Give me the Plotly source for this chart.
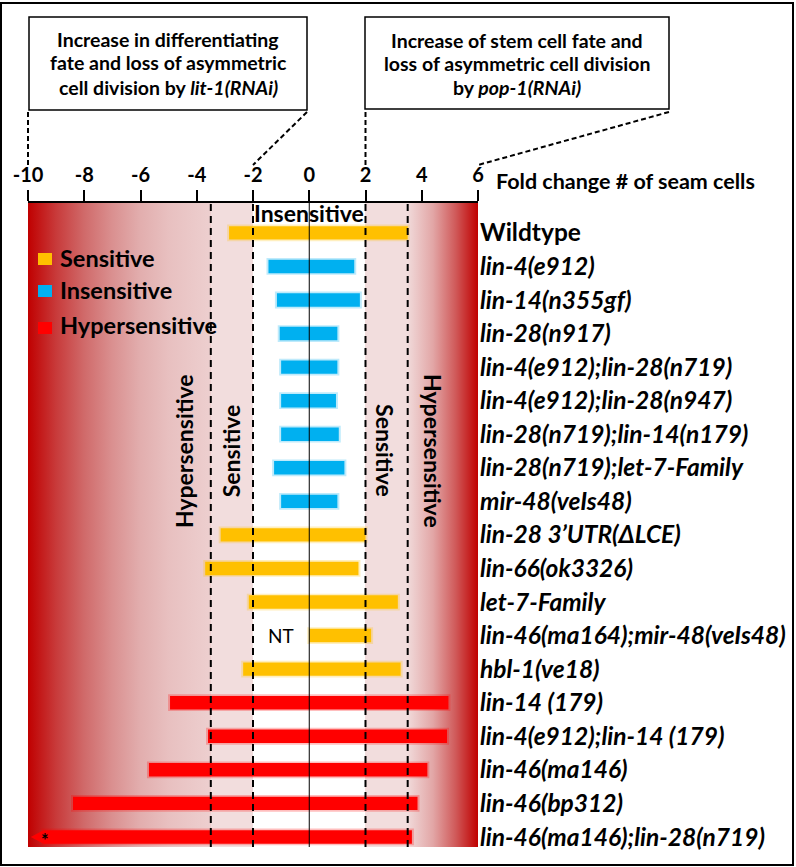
import plotly.graph_objects as go

# ---------------- data ----------------
strains = ["Wildtype", "lin-4(e912)", "lin-14(n355gf)", "lin-28(n917)",
           "lin-4(e912);lin-28(n719)", "lin-4(e912);lin-28(n947)",
           "lin-28(n719);lin-14(n179)", "lin-28(n719);let-7-Family",
           "mir-48(veIs48)", "lin-28 3\u2019UTR(\u0394LCE)", "lin-66(ok3326)",
           "let-7-Family", "lin-46(ma164);mir-48(veIs48)", "hbl-1(ve18)",
           "lin-14 (179)", "lin-4(e912);lin-14 (179)", "lin-46(ma146)",
           "lin-46(bp312)", "lin-46(ma146);lin-28(n719)"]
range_low = [-2.85, -1.45, -1.15, -1.05, -1.0, -1.0, -1.0, -1.25, -1.0,
             -3.15, -3.7, -2.15, 0.0, -2.35, -4.95, -3.6, -5.7, -8.4, -9.45]
range_high = [3.5, 1.6, 1.8, 1.0, 1.0, 0.95, 1.05, 1.25, 1.0,
              2.0, 1.75, 3.15, 2.2, 3.25, 4.95, 4.9, 4.2, 3.85, 3.65]
category = ["Sensitive"] + ["Insensitive"] * 8 + ["Sensitive"] * 5 + ["Hypersensitive"] * 5
arrow_tip = -9.9          # last strain extends beyond the axis (arrow)
not_tested = "lin-46(ma164);mir-48(veIs48)"
thresholds = [-3.5, -2, 2, 3.5]
x_ticks = [-10, -8, -6, -4, -2, 0, 2, 4, 6]
cat_colors = {"Sensitive": "#FFC000", "Insensitive": "#00B0F0", "Hypersensitive": "#FF0000"}

FONT = "Lato"
W, H = 796, 867
L, R, T, B = 28, 318, 203, 20
n = len(strains)
rows = list(range(n))
y_range = [18.3, -0.89]
x_range = [-10, 6]

fig = go.Figure()

# background gradient (main axes, drawn beneath the overlay axes)
fig.add_trace(go.Scatter(
    x=[x_range[0], x_range[1], x_range[1], x_range[0], x_range[0]],
    y=[y_range[1], y_range[1], y_range[0], y_range[0], y_range[1]],
    mode="lines", line=dict(width=0), fill="toself", hoverinfo="skip", showlegend=False,
    fillgradient=dict(type="horizontal", colorscale=[
        [0.0, "#c00000"], [0.0625, "#c83a3a"], [0.125, "#d06a6a"], [0.1875, "#da9090"],
        [0.25, "#e2aeae"], [0.3125, "#e8c0c0"], [0.40625, "#edcfcf"],
        [0.40625, "#f2dddd"], [0.5, "#f2dddd"], [0.5, "#ffffff"], [0.75, "#ffffff"],
        [0.75, "#f2dddd"], [0.84375, "#f2dddd"], [0.85, "#efd4d4"], [0.9, "#e2a6a6"],
        [0.95, "#d05a5a"], [1.0, "#c00000"]]),
))

# soft glow + bars (overlay axes)
for cat in ["Sensitive", "Insensitive", "Hypersensitive"]:
    idx = [i for i in rows if category[i] == cat]
    fig.add_trace(go.Bar(
        orientation="h", y=[rows[i] for i in idx],
        base=[range_low[i] - 0.07 for i in idx],
        x=[range_high[i] - range_low[i] + 0.14 for i in idx],
        width=0.5, marker=dict(color=cat_colors[cat], line=dict(width=0)), opacity=0.25,
        showlegend=False, hoverinfo="skip", xaxis="x2", yaxis="y2"))
for cat in ["Sensitive", "Insensitive", "Hypersensitive"]:
    idx = [i for i in rows if category[i] == cat]
    fig.add_trace(go.Bar(
        orientation="h", y=[rows[i] for i in idx],
        base=[range_low[i] for i in idx],
        x=[range_high[i] - range_low[i] for i in idx],
        width=0.4, marker=dict(color=cat_colors[cat], line=dict(width=0)),
        name=cat, showlegend=False, hoverinfo="skip", xaxis="x2", yaxis="y2"))

# arrow head on last strain
last = n - 1
fig.add_trace(go.Scatter(
    x=[range_low[last], arrow_tip, range_low[last], range_low[last]],
    y=[last - 0.2, last, last + 0.2, last - 0.2],
    mode="lines", line=dict(width=0), fill="toself", fillcolor=cat_colors[category[last]],
    hoverinfo="skip", showlegend=False, xaxis="x2", yaxis="y2"))

shapes = []
for t in thresholds:
    shapes.append(dict(type="line", xref="x", yref="paper", x0=t, x1=t, y0=0, y1=1,
                       line=dict(color="black", width=2, dash="7px,5px")))
shapes.append(dict(type="line", xref="x", yref="paper", x0=0, x1=0, y0=0, y1=1,
                   line=dict(color="black", width=1)))

def px2x(px):
    return (px - L) / (W - L - R)

def py2y(py):
    return (H - B - py) / (H - T - B)

LEAD = dict(color="black", width=2, dash="5px,3px")
# callout boxes and dashed leaders
shapes += [
    dict(type="rect", xref="paper", yref="paper", x0=px2x(29), x1=px2x(307), y0=py2y(110), y1=py2y(17),
         line=dict(color="black", width=1.5)),
    dict(type="rect", xref="paper", yref="paper", x0=px2x(365), x1=px2x(669), y0=py2y(109), y1=py2y(17),
         line=dict(color="black", width=1.5)),
    dict(type="line", xref="paper", yref="paper", x0=0, x1=0, y0=py2y(112), y1=py2y(167), line=LEAD),
    dict(type="line", xref="paper", yref="paper", x0=px2x(307), x1=0.5, y0=py2y(112), y1=py2y(165), line=LEAD),
    dict(type="line", xref="paper", yref="paper", x0=0.75, x1=0.75, y0=py2y(112), y1=py2y(165), line=LEAD),
    dict(type="line", xref="paper", yref="paper", x0=px2x(669), x1=1.0, y0=py2y(112), y1=py2y(165), line=LEAD),
    # outer frame
    dict(type="rect", xref="paper", yref="paper", x0=px2x(1), x1=px2x(793), y0=py2y(865), y1=py2y(3),
         line=dict(color="black", width=2)),
]

# legend squares
leg_y = [259, 291, 328]
for cat, py in zip(["Sensitive", "Insensitive", "Hypersensitive"], leg_y):
    shapes.append(dict(type="rect", xref="paper", yref="paper", x0=px2x(38), x1=px2x(52),
                       y0=py2y(py + 6), y1=py2y(py - 6), fillcolor=cat_colors[cat], line=dict(width=0)))

ann = []
def txt(x, y, s, size, xref="paper", yref="paper", bold=True, **kw):
    ann.append(dict(x=x, y=y, xref=xref, yref=yref, text=(f"<b>{s}</b>" if bold else s),
                    showarrow=False, font=dict(family=FONT, size=size, color="black"), **kw))

for cat, py in zip(["Sensitive", "Insensitive", "Hypersensitive"], [258, 290, 325]):
    txt(px2x(58), py2y(py), cat, 23.5, xanchor="left", yanchor="middle")

c1 = ["Increase in differentiating", "fate and loss of asymmetric", "cell division by <i>lit-1(RNAi)</i>"]
for s, py in zip(c1, [39, 63, 88]):
    txt(px2x(168), py2y(py), s, 19.5, xanchor="center", yanchor="middle")
c2 = ["Increase of stem cell fate and", "loss of asymmetric cell division", "by <i>pop-1(RNAi)</i>"]
for s, py in zip(c2, [40, 64, 88]):
    txt(px2x(517), py2y(py), s, 19.5, xanchor="center", yanchor="middle")

txt(px2x(494), py2y(181), "Fold change # of seam cells", 21.5, xanchor="left", yanchor="middle")
txt(0, -0.6, "Insensitive", 23, xref="x", yref="y", xanchor="center", yanchor="middle")
txt(-4.45, 6.5, "Hypersensitive", 23, xref="x", yref="y", textangle=-90)
txt(-2.77, 6.5, "Sensitive", 23, xref="x", yref="y", textangle=-90)
txt(2.69, 6.5, "Sensitive", 23, xref="x", yref="y", textangle=90)
txt(4.4, 6.5, "Hypersensitive", 23, xref="x", yref="y", textangle=90)
txt(-1.0, strains.index(not_tested), "NT", 19, xref="x", yref="y", bold=False)
txt(-9.38, last + 0.08, "*", 18, xref="x", yref="y", bold=True)

ticktext_y = ["<b>" + s + "</b>" if s == "Wildtype" else "<b><i>" + s + "</i></b>" for s in strains]

fig.update_layout(
    width=W, height=H, autosize=False,
    margin=dict(l=L, r=R, t=T, b=B, autoexpand=False),
    paper_bgcolor="white", plot_bgcolor="white",
    shapes=shapes, annotations=ann, showlegend=False, barmode="overlay",
    xaxis=dict(side="top", range=x_range, tickvals=x_ticks, automargin=False,
               ticktext=[f"<b>{v}</b>" for v in x_ticks],
               tickfont=dict(family=FONT, size=20, color="black"),
               ticks="outside", ticklen=11, tickwidth=1.5, tickcolor="black",
               showline=True, linecolor="black", linewidth=1.5,
               showgrid=False, zeroline=False, fixedrange=True),
    yaxis=dict(side="right", range=y_range, tickvals=rows, ticktext=ticktext_y, automargin=False,
               tickfont=dict(family=FONT, size=24.5, color="black"), ticklabelstandoff=1,
               ticks="", showline=False, showgrid=False, zeroline=False, fixedrange=True),
    xaxis2=dict(overlaying="x", range=x_range, visible=False, fixedrange=True, automargin=False),
    yaxis2=dict(overlaying="y", range=y_range, visible=False, fixedrange=True, automargin=False),
)

fig.write_html("out.html", config={"displayModeBar": False},
               post_script="document.body.style.margin='0';document.body.style.overflow='hidden';")
